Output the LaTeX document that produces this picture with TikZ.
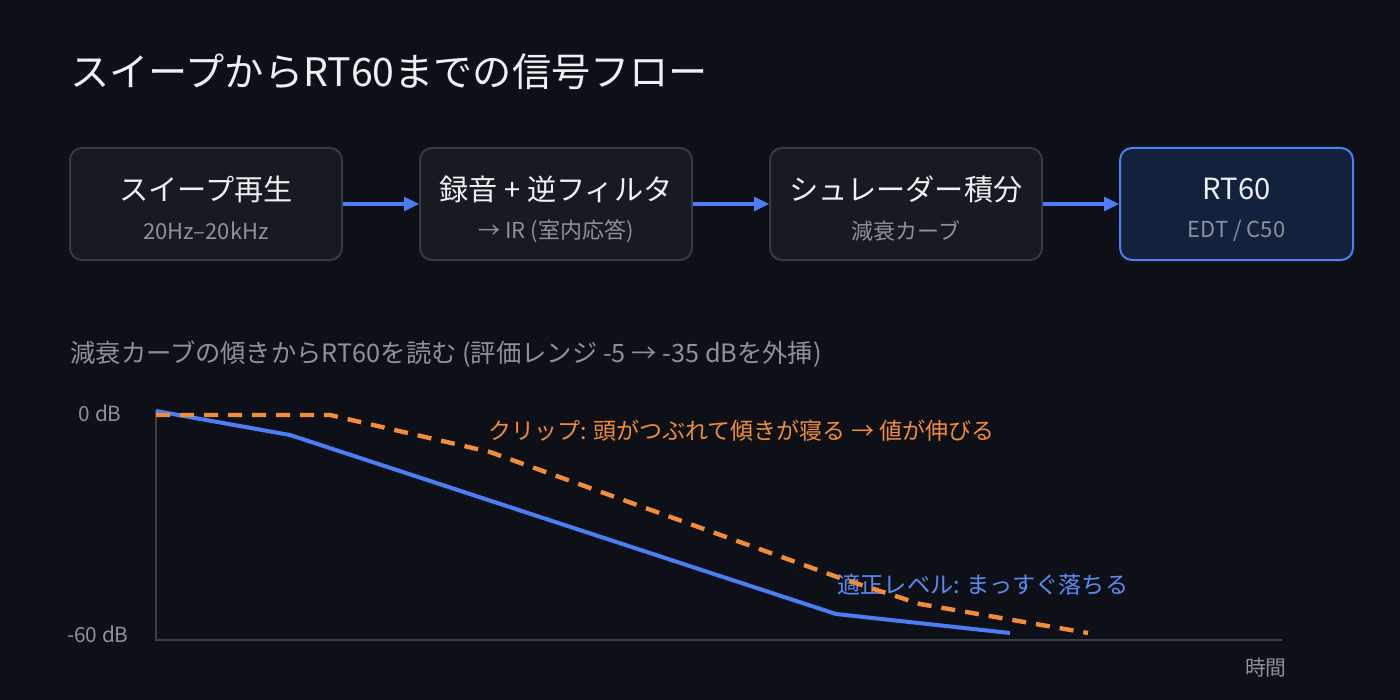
\documentclass[tikz,border=0pt]{standalone}
\usepackage{fontspec}
\setmainfont{Noto Sans CJK JP}
\usetikzlibrary{arrows.meta}
\definecolor{bg}{HTML}{0D1017}
\definecolor{boxfill}{HTML}{161A21}
\definecolor{boxline}{HTML}{353A43}
\definecolor{hlfill}{HTML}{14213D}
\definecolor{hlline}{HTML}{4F7FF0}
\definecolor{titletext}{HTML}{EEF0F3}
\definecolor{subtext}{HTML}{8C919A}
\definecolor{axis}{HTML}{3A3E46}
\definecolor{blueline}{HTML}{4C7DF4}
\definecolor{bluetext}{HTML}{5B8AF2}
\definecolor{orange}{HTML}{F28C38}
\tikzset{
  stagebox/.style={draw=boxline, fill=boxfill, line width=1pt, rounded corners=6pt, minimum width=136pt, minimum height=56pt},
  hlbox/.style={stagebox, draw=hlline, fill=hlfill, minimum width=116.5pt},
  boxtitle/.style={text=titletext, font=\fontsize{14.6pt}{17pt}\selectfont, inner sep=0pt},
  boxsub/.style={text=subtext, font=\fontsize{11pt}{13pt}\selectfont, inner sep=0pt},
  flow/.style={draw=blueline, line width=1.5pt, -{Triangle[length=7.5pt,width=7pt]}},
  axisline/.style={draw=axis, line width=1.2pt},
  axlabel/.style={text=subtext, font=\fontsize{10.4pt}{12pt}\selectfont, inner sep=0pt},
  goodcurve/.style={draw=blueline, line width=2pt, line join=round},
  clipcurve/.style={draw=orange, line width=2.2pt, dash pattern=on 7pt off 5pt},
}
\begin{document}
\begin{tikzpicture}[x=0.5pt,y=-0.5pt]
\fill[bg] (0,0) rectangle (1400,700);
\useasboundingbox (0,0) rectangle (1400,700);

\node[anchor=west, text=titletext, font=\fontsize{19.6pt}{23pt}\selectfont, inner sep=0pt] (title) at (70,72) {スイープからRT60までの信号フロー};

\node[stagebox] (b1) at (206,204) {};
\node[stagebox] (b2) at (556,204) {};
\node[stagebox] (b3) at (906,204) {};
\node[hlbox] (b4) at (1236.5,204) {};

\node[boxtitle] (t1) at (206,189) {スイープ再生};
\node[boxsub] (s1) at (206,231) {20Hz–20kHz};
\node[boxtitle] (t2) at (556,189) {録音 + 逆フィルタ};
\node[boxsub] (s2) at (556,231) {→ IR (室内応答)};
\node[boxtitle] (t3) at (906,189) {シュレーダー積分};
\node[boxsub] (s3) at (906,231) {減衰カーブ};
\node[boxtitle] (t4) at (1236.5,189) {RT60};
\node[boxsub] (s4) at (1236.5,231) {EDT / C50};

\draw[flow] (b1.east) -- (b2.west);
\draw[flow] (b2.east) -- (b3.west);
\draw[flow] (b3.east) -- (b4.west);

\node[anchor=west, text=subtext, font=\fontsize{12.65pt}{14pt}\selectfont, inner sep=0pt] (charttitle) at (70,354) {減衰カーブの傾きからRT60を読む (評価レンジ -5 → -35 dBを外挿)};

\coordinate (otop) at (156,410);
\coordinate (origin) at (156,640);
\coordinate (xend) at (1282,640);
\draw[axisline] (otop) -- (origin) -- (xend);

\node[axlabel, anchor=east] (l0) at (122,413) {0 dB};
\node[axlabel, anchor=east] (l60) at (129,634) {-60 dB};
\node[axlabel, anchor=east] (lt) at (1287,668) {時間};

\node[anchor=west, text=orange, font=\fontsize{11.5pt}{13pt}\selectfont, inner sep=0pt] (cliplabel) at (488,431) {クリップ: 頭がつぶれて傾きが寝る → 値が伸びる};
\node[anchor=west, text=bluetext, font=\fontsize{11.6pt}{13pt}\selectfont, inner sep=0pt] (goodlabel) at (837,585) {適正レベル: まっすぐ落ちる};

\draw[goodcurve] (156,411) -- (290,435) -- (836,614) -- (1010,633);
\draw[clipcurve] (156,415) -- (330,415) -- (490,452) -- (840,578) -- (920,604) -- (1088,633);
\end{tikzpicture}
\end{document}
